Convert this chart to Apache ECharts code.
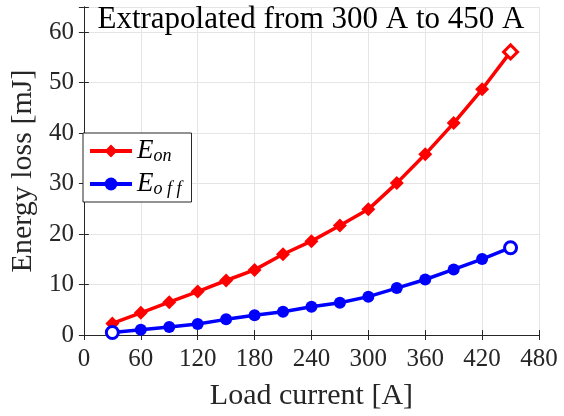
<!DOCTYPE html>
<html><head><meta charset="utf-8">
<script src="https://cdn.jsdelivr.net/npm/echarts@6/dist/echarts.min.js"></script>
<style>html,body{margin:0;padding:0;background:#fff}#c{width:564px;height:416px}</style>
</head><body><div id="c"></div>
<script>
const xValues = [30, 60, 90, 120, 150, 180, 210, 240, 270, 300, 330, 360, 390, 420, 450];
const eonValues = [2.3, 4.4, 6.5, 8.6, 10.8, 12.9, 16.0, 18.6, 21.7, 24.9, 30.1, 35.8, 42.0, 48.7, 56.1];
const eoffValues = [0.5, 1.05, 1.6, 2.2, 3.1, 3.9, 4.6, 5.6, 6.4, 7.6, 9.3, 11.0, 13.0, 15.05, 17.3];
const xTicks = [0, 60, 120, 180, 240, 300, 360, 420, 480];
const yTicks = [0, 10, 20, 30, 40, 50, 60];
const titleText = 'Extrapolated from 300 A to 450 A';
const xName = 'Load current [A]';
const yName = 'Energy loss [mJ]';
const seriesNames = ['E_on', 'E_off'];

const FONT = 'Liberation Serif';
const AX = '#262626';
const GRID = '#e5e5e5';

function build(vals, color, hollowIdx) {
  return xValues.map((x, i) => {
    const d = { value: [x, vals[i]] };
    if (hollowIdx.includes(i)) {
      d.itemStyle = { color: '#ffffff', borderColor: color, borderWidth: 3 };
    }
    return d;
  });
}

const chart = echarts.init(document.getElementById('c'), null, { renderer: 'canvas' });
const axisCommon = {
  axisLine: { show: true, lineStyle: { color: AX, width: 1 } },
  axisTick: { show: true, inside: true, length: 5, lineStyle: { color: AX } },
};
chart.setOption({
  animation: false,
  backgroundColor: '#ffffff',
  grid: { left: 83, right: 25, top: 7, bottom: 79, show: false },
  title: {
    text: titleText, left: 311, top: 4, textAlign: 'center', padding: 0,
    textStyle: { fontFamily: FONT, fontSize: 31, fontWeight: 'normal', color: '#000' }
  },
  legend: {
    orient: 'vertical', left: 83, top: 133,
    data: seriesNames,
    backgroundColor: '#ffffff', borderColor: AX, borderWidth: 1,
    padding: [4, 10, 4, 5], itemGap: 5, itemWidth: 42, itemHeight: 16,
    lineStyle: { width: 4 },
    formatter: n => n === 'E_on' ? '{e|E}{s|on}' : '{e|E}{s|o f f}',
    textStyle: {
      fontFamily: FONT, color: '#000',
      rich: {
        e: { fontFamily: FONT, fontStyle: 'italic', fontSize: 27, lineHeight: 30 },
        s: { fontFamily: FONT, fontStyle: 'italic', fontSize: 18, lineHeight: 30, padding: [10, 0, 0, 0] }
      }
    }
  },
  xAxis: [{
    type: 'value', min: 0, max: 480, interval: 60,
    name: xName, nameLocation: 'middle', nameGap: 46,
    nameTextStyle: { fontFamily: FONT, fontSize: 30, color: AX },
    ...axisCommon,
    axisLabel: { fontFamily: FONT, fontSize: 25, color: AX, margin: 12 },
    splitLine: { show: true, lineStyle: { color: GRID, width: 1 } }
  }, {
    type: 'value', min: 0, max: 480, interval: 60, position: 'top',
    ...axisCommon, axisLabel: { show: false }, splitLine: { show: false }
  }],
  yAxis: [{
    type: 'value', min: 0, max: 65, interval: 10,
    name: yName, nameLocation: 'middle', nameGap: 44,
    nameTextStyle: { fontFamily: FONT, fontSize: 30, color: AX },
    ...axisCommon,
    axisLabel: { fontFamily: FONT, fontSize: 25, color: AX, margin: 10,
      formatter: v => yTicks.includes(v) ? String(v) : '' },
    splitLine: { show: true, lineStyle: { color: GRID, width: 1 } }
  }, {
    type: 'value', min: 0, max: 65, interval: 10, position: 'right',
    ...axisCommon, axisLabel: { show: false }, splitLine: { show: false }
  }],
  series: [{
    name: seriesNames[0], type: 'line', data: build(eonValues, '#ff0000', [xValues.length - 1]),
    symbol: 'diamond', symbolSize: 14, showAllSymbol: true,
    lineStyle: { color: '#ff0000', width: 3.5 },
    itemStyle: { color: '#ff0000' }, z: 3
  }, {
    name: seriesNames[1], type: 'line', data: build(eoffValues, '#0000ff', [0, xValues.length - 1]),
    symbol: 'circle', symbolSize: 12, showAllSymbol: true,
    lineStyle: { color: '#0000ff', width: 3.5 },
    itemStyle: { color: '#0000ff' }, z: 3
  }]
});
</script></body></html>
